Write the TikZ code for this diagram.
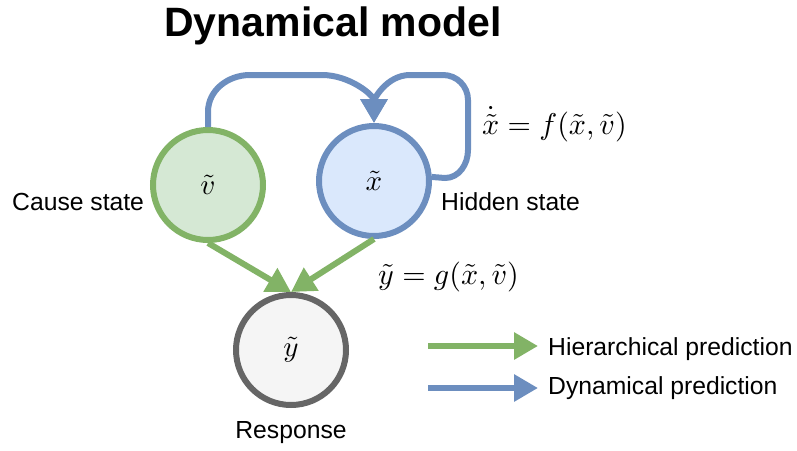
\documentclass[tikz,border=0pt]{standalone}
\usepackage{graphicx}
\usepackage{fontspec}
\setmainfont{Liberation Sans}
\usetikzlibrary{arrows.meta}

\definecolor{greenline}{HTML}{82B366}
\definecolor{greenfill}{HTML}{D5E8D4}
\definecolor{blueline}{HTML}{6C8EBF}
\definecolor{bluefill}{HTML}{DAE8FC}
\definecolor{grayline}{HTML}{666666}
\definecolor{grayfill}{HTML}{F5F5F5}

% math set at 10pt and enlarged
\newcommand{\bigmath}[2]{\scalebox{#1}{$#2$}}

\tikzset{
  statenode/.style={circle, minimum size=110pt, inner sep=0pt, line width=6pt},
  hier/.style={draw=greenline, line width=6pt,
    -{Triangle[length=24pt,width=26pt]}},
  dyn/.style={draw=blueline, line width=6pt,
    -{Triangle[length=24pt,width=26pt]}},
  lbl/.style={font=\fontsize{24.7}{28}\selectfont, inner sep=0pt},
  eqn/.style={inner sep=0pt}
}

\begin{document}
\begin{tikzpicture}[x=1pt, y=-1pt]
\useasboundingbox (0,0) rectangle (797,450);

% title
\node[anchor=base, inner sep=0pt, font=\fontsize{41}{45}\selectfont\bfseries] (title) at (333,36) {Dynamical model};

% states
\node[statenode, draw=greenline, fill=greenfill] (v) at (208,185) {\bigmath{2.9}{\tilde{v}}};
\node[statenode, draw=blueline, fill=bluefill] (x) at (374,181) {\bigmath{2.9}{\tilde{x}}};
\node[statenode, draw=grayline, fill=grayfill] (y) at (291,350) {\bigmath{2.9}{\tilde{y}}};

% state labels
\node[lbl, anchor=base west] (lv) at (12,210) {Cause state};
\node[lbl, anchor=base west] (lx) at (441,210) {Hidden state};
\node[lbl, anchor=base] (ly) at (291,438) {Response};

% dynamical predictions
\draw[dyn] (v.north) -- (208,112) to[out=90,in=180] (250,75) -- (322,75)
  to[out=0,in=90] (x.north);
\draw[dyn] (x.4) -- (445,178) to[out=0,in=-90] (468,150) -- (468,100)
  to[out=90,in=0] (443,75) -- (410,75) to[out=180,in=90] (x.north);

% hierarchical predictions
\draw[hier] (v.south) -- (y.north);
\draw[hier] (x.south) -- (y.north);

% equations
\node[eqn, anchor=base west] (fx) at (482,134) {\bigmath{3.0}{\dot{\tilde{x}} = f(\tilde{x},\tilde{v})}};
\node[eqn, anchor=base west] (gy) at (378,284) {\bigmath{3.0}{\tilde{y} = g(\tilde{x},\tilde{v})}};

% legend
\coordinate (h0) at (428,346);
\coordinate (h1) at (538,346);
\coordinate (d0) at (428,388);
\coordinate (d1) at (538,388);
\draw[hier] (h0) -- (h1);
\draw[dyn] (d0) -- (d1);
\node[lbl, anchor=base west] (lh) at (548,355) {Hierarchical prediction};
\node[lbl, anchor=base west] (ld) at (548,394) {Dynamical prediction};
\end{tikzpicture}
\end{document}
